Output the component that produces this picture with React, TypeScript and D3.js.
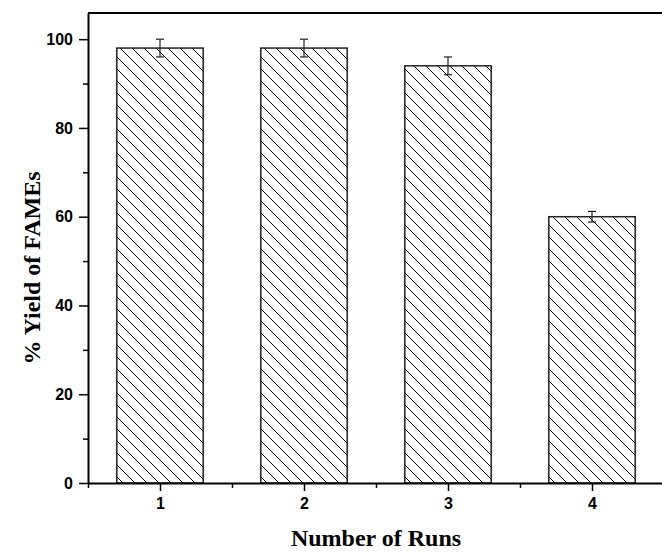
import React, { useRef, useEffect } from 'react';
import { select, scaleLinear, axisLeft, axisBottom, range } from 'd3';

// run number, yield and error
const runs = [1, 2, 3, 4];
const yields = [98, 98, 94, 60];
const errors = [2, 2, 2, 1.2];
const yMajorTicks = [0, 20, 40, 60, 80, 100];
const xTitle = 'Number of Runs';
const yTitle = '% Yield of FAMEs';

const W = 662;
const H = 552;
const m = { left: 88, top: 13, bottom: 483, right: 664 };

const App = () => {
    const svgRef = useRef<SVGSVGElement>(null);

    useEffect(() => {
        const svg = select(svgRef.current);
        svg.selectAll('*').remove();

        const x = scaleLinear().domain([0.5, 4.5]).range([m.left, m.right]);
        const y = scaleLinear().domain([0, 105.9]).range([m.bottom, m.top]);
        const barW = x(1.1) - x(0.5); // 0.6 unit wide

        // hatch pattern
        const pat = svg.append('defs').append('pattern')
            .attr('id', 'hatch')
            .attr('patternUnits', 'userSpaceOnUse')
            .attr('width', 12).attr('height', 12);
        pat.append('rect').attr('width', 12).attr('height', 12).attr('fill', '#fff');
        pat.append('path')
            .attr('d', 'M-3,-3 L15,15 M-3,9 L3,15 M9,-3 L15,3')
            .attr('stroke', '#000').attr('stroke-width', 1);

        // bars
        svg.selectAll('.bar')
            .data(runs)
            .join('rect')
            .attr('class', 'bar')
            .attr('x', d => x(d) - barW / 2)
            .attr('width', barW)
            .attr('y', (d, i) => y(yields[i]))
            .attr('height', (d, i) => y(0) - y(yields[i]))
            .attr('fill', 'url(#hatch)')
            .attr('stroke', '#222')
            .attr('stroke-width', 1.5);

        // error bars
        const eb = svg.selectAll('.err').data(runs).join('g').attr('class', 'err')
            .attr('stroke', '#222').attr('stroke-width', 1.2);
        eb.append('line')
            .attr('x1', d => x(d)).attr('x2', d => x(d))
            .attr('y1', (d, i) => y(yields[i] + errors[i]))
            .attr('y2', (d, i) => y(yields[i] - errors[i]));
        [1, -1].forEach(s => {
            eb.append('line')
                .attr('x1', d => x(d) - 4).attr('x2', d => x(d) + 4)
                .attr('y1', (d, i) => y(yields[i] + s * errors[i]))
                .attr('y2', (d, i) => y(yields[i] + s * errors[i]));
        });

        // frame top (right edge falls outside the picture)
        svg.append('path')
            .attr('d', `M${m.left},${m.top} H${m.right + 4} V${m.bottom}`)
            .attr('fill', 'none').attr('stroke', '#000').attr('stroke-width', 2);

        // y axis
        const yMinor = range(10, 101, 20);
        svg.append('g')
            .attr('transform', `translate(${m.left},0)`)
            .call(axisLeft(y).tickValues(yMinor).tickSize(5).tickFormat(() => ''))
            .call(g => g.select('.domain').remove())
            .selectAll('line').attr('stroke-width', 1.5);
        const ya = svg.append('g')
            .attr('transform', `translate(${m.left},0)`)
            .call(axisLeft(y).tickValues(yMajorTicks).tickSize(9).tickSizeOuter(0).tickPadding(6));
        ya.select('.domain').attr('stroke-width', 2);
        ya.selectAll('line').attr('stroke-width', 1.5);
        ya.selectAll('text')
            .attr('font-family', 'Liberation Sans, Arial, sans-serif')
            .attr('font-weight', 'bold').attr('font-size', 16).attr('fill', '#000');

        // x axis
        svg.append('g')
            .attr('transform', `translate(0,${m.bottom})`)
            .call(axisBottom(x).tickValues([0.5, 1.5, 2.5, 3.5]).tickSize(5).tickFormat(() => ''))
            .call(g => g.select('.domain').remove())
            .selectAll('line').attr('stroke-width', 1.5);
        const xa = svg.append('g')
            .attr('transform', `translate(0,${m.bottom})`)
            .call(axisBottom(x).tickValues(runs).tickSize(8).tickSizeOuter(0).tickPadding(7).tickFormat(d => String(d)));
        xa.select('.domain').attr('stroke-width', 2);
        xa.selectAll('line').attr('stroke-width', 1.5);
        xa.selectAll('text')
            .attr('font-family', 'Liberation Sans, Arial, sans-serif')
            .attr('font-weight', 'bold').attr('font-size', 16).attr('fill', '#000');

        // titles
        svg.append('text')
            .attr('x', 376).attr('y', 546)
            .attr('text-anchor', 'middle')
            .attr('font-family', 'Liberation Serif, Times New Roman, serif')
            .attr('font-weight', 'bold').attr('font-size', 24)
            .text(xTitle);
        svg.append('text')
            .attr('transform', 'translate(40,268) rotate(-90)')
            .attr('text-anchor', 'middle')
            .attr('font-family', 'Liberation Serif, Times New Roman, serif')
            .attr('font-weight', 'bold').attr('font-size', 24)
            .text(yTitle);
    }, []);

    return (
        <svg ref={svgRef} width={W} height={H}
             style={{ position: 'absolute', left: 0, top: 0, background: '#fff' }} />
    );
};

export default App;
